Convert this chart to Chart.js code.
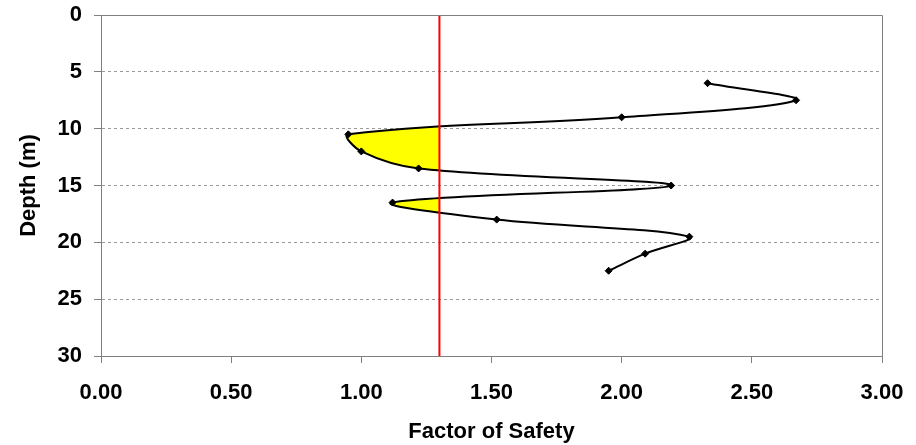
<!DOCTYPE html>
<html>
<head>
<meta charset="utf-8">
<script src="https://cdn.jsdelivr.net/npm/chart.js@4.4.1/dist/chart.umd.min.js"></script>
<style>
  body { margin: 0; background: #fff; }
  .wrap { width: 916px; height: 445px; position: relative; }
</style>
</head>
<body>
<div class="wrap"><canvas id="fsChart"></canvas></div>
<script>
// Depth (m) and factor of safety
const depths = [6, 7.5, 9, 10.5, 12, 13.5, 15, 16.5, 18, 19.5, 21, 22.5];
const factorOfSafety = [2.33, 2.67, 2.0, 0.95, 1.0, 1.22, 2.19, 1.12, 1.52, 2.26, 2.09, 1.95];
const requiredFS = 1.3;
const fsTicks = [0, 0.5, 1.0, 1.5, 2.0, 2.5, 3.0];
const depthTicks = [0, 5, 10, 15, 20, 25, 30];

const axisFont = { family: "'Liberation Sans', Arial, sans-serif", size: 22, weight: 'bold' };
const frameColor = '#808080';

// yellow area where the curve is left of the required FS line
const lowFsFill = {
  id: 'lowFsFill',
  beforeDatasetsDraw(chart) {
    const meta = chart.getDatasetMeta(1);
    const area = chart.chartArea;
    meta.dataset.updateControlPoints(area, 'x');
    const pts = meta.data;
    const xLim = chart.scales.x.getPixelForValue(requiredFS);
    const ctx = chart.ctx;
    ctx.save();
    ctx.beginPath();
    ctx.rect(area.left, area.top, xLim - area.left, area.bottom - area.top);
    ctx.clip();
    ctx.beginPath();
    ctx.moveTo(xLim, pts[0].y);
    ctx.lineTo(pts[0].x, pts[0].y);
    for (let i = 1; i < pts.length; i++) {
      const p = pts[i - 1], c = pts[i];
      ctx.bezierCurveTo(p.cp2x, p.cp2y, c.cp1x, c.cp1y, c.x, c.y);
    }
    ctx.lineTo(xLim, pts[pts.length - 1].y);
    ctx.closePath();
    ctx.fillStyle = '#ffff00';
    ctx.fill();
    ctx.restore();
  },
  afterDraw(chart) {
    // top and right edges of the plot frame
    const a = chart.chartArea, ctx = chart.ctx;
    ctx.save();
    ctx.strokeStyle = frameColor;
    ctx.lineWidth = 1;
    ctx.beginPath();
    ctx.moveTo(Math.round(a.left) + 0.5, Math.round(a.top) + 0.5);
    ctx.lineTo(Math.round(a.right) + 0.5, Math.round(a.top) + 0.5);
    ctx.lineTo(Math.round(a.right) + 0.5, Math.round(a.bottom) + 0.5);
    ctx.stroke();
    ctx.restore();
  }
};

const ctx = document.getElementById('fsChart').getContext('2d');
new Chart(ctx, {
  type: 'scatter',
  data: {
    datasets: [
      {
        label: 'Required FS',
        data: [{ x: requiredFS, y: depthTicks[0] }, { x: requiredFS, y: depthTicks[depthTicks.length - 1] }],
        showLine: true,
        borderColor: '#ff0000',
        borderWidth: 2,
        pointRadius: 0,
        order: 0
      },
      {
        label: 'Factor of Safety',
        data: depths.map((d, i) => ({ x: factorOfSafety[i], y: d })),
        showLine: true,
        tension: 0.35,
        borderColor: '#000',
        borderWidth: 2,
        pointStyle: 'rectRot',
        pointRadius: 3.5,
        pointBackgroundColor: '#000',
        pointBorderColor: '#000',
        pointBorderWidth: 1,
        order: 1
      }
    ]
  },
  options: {
    responsive: true,
    maintainAspectRatio: false,
    animation: false,
    layout: { padding: { top: 15, right: 34, left: 0, bottom: 0 } },
    plugins: { legend: { display: false }, tooltip: { enabled: false } },
    scales: {
      x: {
        type: 'linear',
        min: 0,
        max: 3,
        afterBuildTicks: s => { s.ticks = fsTicks.map(v => ({ value: v })); },
        afterFit: s => { s.height = 89; s.paddingLeft = 0; s.paddingRight = 0; },
        ticks: { callback: v => Number(v).toFixed(2), font: axisFont, color: '#000', padding: 17, maxRotation: 0, autoSkip: false },
        grid: { drawOnChartArea: false, drawTicks: true, tickLength: 7, tickColor: frameColor, tickWidth: 1 },
        border: { color: frameColor, width: 1 },
        title: { display: true, text: 'Factor of Safety', font: axisFont, color: '#000', padding: { top: 0, bottom: 0 } }
      },
      y: {
        type: 'linear',
        reverse: true,
        min: 0,
        max: 30,
        afterBuildTicks: s => { s.ticks = depthTicks.map(v => ({ value: v })); },
        afterFit: s => { s.width = 101; s.paddingTop = 0; s.paddingBottom = 0; },
        ticks: { font: axisFont, color: '#000', padding: 12, autoSkip: false },
        grid: {
          color: c => (c.tick && (c.tick.value === 0 || c.tick.value === 30)) ? 'rgba(0,0,0,0)' : '#9a9a9a',
          tickLength: 7,
          tickColor: frameColor,
          tickWidth: 1
        },
        border: { color: frameColor, width: 1, dash: [3, 3] },
        title: { display: true, text: 'Depth (m)', font: axisFont, color: '#000', padding: { top: 16, bottom: 0 } }
      }
    }
  },
  plugins: [lowFsFill]
});
</script>
</body>
</html>
